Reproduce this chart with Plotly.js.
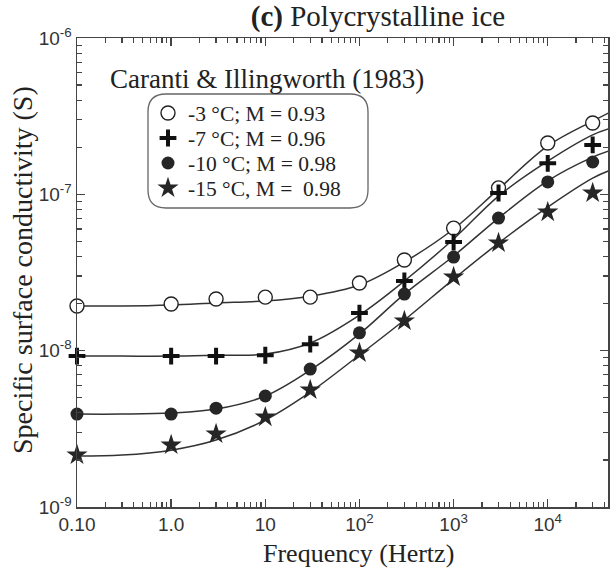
<!DOCTYPE html>
<html>
<head>
<meta charset="utf-8">
<script src="https://cdn.plot.ly/plotly-3.0.1.min.js"></script>
<style>html,body{margin:0;padding:0;background:#fff;}#chart{width:610px;height:572px;}</style>
</head>
<body>
<div id="chart"></div>
<script>
// ---- measured data (Hz, S) ----
var freq = [0.1, 1, 3, 10, 30, 100, 300, 1000, 3000, 10000, 30000];
var sM3  = [1.93e-8, 1.99e-8, 2.14e-8, 2.20e-8, 2.20e-8, 2.71e-8, 3.80e-8, 6.08e-8, 1.10e-7, 2.13e-7, 2.86e-7];
var sM7  = [9.23e-9, 9.23e-9, 9.23e-9, 9.35e-9, 1.10e-8, 1.74e-8, 2.79e-8, 4.95e-8, 1.02e-7, 1.58e-7, 2.07e-7];
var sM10 = [3.93e-9, 3.93e-9, 4.29e-9, 5.13e-9, 7.62e-9, 1.30e-8, 2.30e-8, 3.97e-8, 7.05e-8, 1.20e-7, 1.61e-7];
var sM15 = [2.15e-9, 2.49e-9, 2.93e-9, 3.76e-9, 5.60e-9, 9.66e-9, 1.55e-8, 2.96e-8, 4.88e-8, 7.70e-8, 1.02e-7];

// ---- fitted curves ----
var fitFreq = [0.1, 0.3, 1, 3, 10, 30, 100, 300, 1000, 3000, 10000, 30000, 44000];
var fitM3  = [1.93e-8, 1.93e-8, 1.96e-8, 2.02e-8, 2.08e-8, 2.23e-8, 2.63e-8, 3.69e-8, 6.0e-8, 1.08e-7, 2.04e-7, 2.94e-7, 3.31e-7];
var fitM7  = [9.23e-9, 9.23e-9, 9.23e-9, 9.35e-9, 9.51e-9, 1.12e-8, 1.69e-8, 2.79e-8, 5.18e-8, 9.75e-8, 1.63e-7, 2.40e-7, 2.62e-7];
var fitM10 = [3.93e-9, 3.93e-9, 3.99e-9, 4.23e-9, 5.13e-9, 7.51e-9, 1.28e-8, 2.30e-8, 4.03e-8, 7.05e-8, 1.22e-7, 1.73e-7, 1.89e-7];
var fitM15 = [2.12e-9, 2.15e-9, 2.31e-9, 2.68e-9, 3.60e-9, 5.43e-9, 9.38e-9, 1.57e-8, 2.87e-8, 4.88e-8, 8.29e-8, 1.27e-7, 1.41e-7];

// ---- labels ----
var seriesNames = ['-3 °C; M = 0.93', '-7 °C; M = 0.96', '-10 °C; M = 0.98', '-15 °C, M =\u00a0 0.98'];
var xTickVals = [0.1, 1, 10, 100, 1000, 10000];
var xTickText = ['0.10', '1.0', '10', '10<sup>2</sup>', '10<sup>3</sup>', '10<sup>4</sup>'];
var yTickVals = [1e-9, 1e-8, 1e-7, 1e-6];
var yTickText = ['10<sup>-9</sup>', '10<sup>-8</sup>', '10<sup>-7</sup>', '10<sup>-6</sup>'];
var titleText = '<b>(c)</b> Polycrystalline ice';
var xTitle = 'Frequency (Hertz)';
var yTitle = 'Specific surface conductivity (S)';
var sourceText = 'Caranti &amp; Illingworth (1983)';

function minorTicks(d0, d1) {
  var out = [];
  for (var d = d0; d <= d1; d++) {
    for (var m = 2; m <= 9; m++) out.push(m * Math.pow(10, d));
  }
  return out;
}

var SERIF = 'Liberation Serif, Times New Roman, serif';
var SANS = 'Liberation Sans, Arial, sans-serif';
var INK = '#222';
var LINEC = '#333';

var fits = [fitM3, fitM7, fitM10, fitM15];
var traces = [];
fits.forEach(function (f) {
  traces.push({x: fitFreq, y: f, mode: 'lines', type: 'scatter', line: {color: LINEC, width: 1.5, shape: 'spline', smoothing: 1}, showlegend: false, hoverinfo: 'skip'});
});

var markerStyles = [
  {symbol: 'circle', size: 14, color: '#fff', line: {color: '#222', width: 1.4}},
  {symbol: 'cross-thin', size: 12, color: '#111', line: {color: '#111', width: 4}},
  {symbol: 'circle', size: 13, color: '#262626', line: {color: '#262626', width: 0}},
  {symbol: 'star', size: 16, color: '#262626', line: {color: '#262626', width: 0}}
];
var seriesData = [sM3, sM7, sM10, sM15];
var legendIds = ['legend', 'legend2', 'legend3', 'legend4'];
seriesData.forEach(function (s, i) {
  traces.push({x: freq, y: s, mode: 'markers', type: 'scatter', name: seriesNames[i], marker: markerStyles[i], cliponaxis: false, legend: legendIds[i]});
});

// layout geometry (pixels -> paper)
var L = 77, R = 2, T = 38, B = 65, W = 610, H = 572;
var pw = W - L - R, ph = H - T - B;
function px(x) { return (x - L) / pw; }
function py(y) { return (H - B - y) / ph; }

var legendRows = [113, 138, 163, 188];
var legendFont = {family: SERIF, size: 21.5, color: INK};
var layout = {
  width: W, height: H,
  margin: {l: L, r: R, t: T, b: B},
  paper_bgcolor: '#fff', plot_bgcolor: '#fff',
  title: {text: titleText, font: {family: SERIF, size: 29, color: INK}, xref: 'container', yref: 'container', x: 378 / W, xanchor: 'center', y: 1 - 16 / H, yanchor: 'middle'},
  xaxis: {
    type: 'log', range: [-1, 4.64], tickmode: 'array', tickvals: xTickVals, ticktext: xTickText,
    ticks: 'inside', ticklen: 8, tickwidth: 1.5, tickcolor: '#444',
    showline: true, linecolor: '#444', linewidth: 1.5, mirror: 'allticks',
    showgrid: false, zeroline: false,
    tickfont: {family: SANS, size: 19, color: '#333'},
    minor: {tickmode: 'array', tickvals: minorTicks(-1, 4), ticks: 'inside', ticklen: 5, tickwidth: 1.2, tickcolor: '#444', showgrid: false}
  },
  yaxis: {
    type: 'log', range: [-9, -6], tickmode: 'array', tickvals: yTickVals, ticktext: yTickText,
    ticks: 'inside', ticklen: 8, tickwidth: 1.5, tickcolor: '#444',
    showline: true, linecolor: '#444', linewidth: 1.5, mirror: 'allticks',
    showgrid: false, zeroline: false,
    tickfont: {family: SANS, size: 19, color: '#333'},
    minor: {tickmode: 'array', tickvals: minorTicks(-9, -7), ticks: 'inside', ticklen: 5, tickwidth: 1.2, tickcolor: '#444', showgrid: false}
  },
  annotations: [
    {text: xTitle, xref: 'paper', yref: 'paper', x: px(358), y: py(553), xanchor: 'center', yanchor: 'middle', showarrow: false, font: {family: SERIF, size: 26, color: INK}},
    {text: yTitle, xref: 'paper', yref: 'paper', x: px(22), y: py(270), xanchor: 'center', yanchor: 'middle', textangle: -90, showarrow: false, font: {family: SERIF, size: 28, color: INK}},
    {text: sourceText, xref: 'paper', yref: 'paper', x: px(108), y: py(79), xanchor: 'left', yanchor: 'middle', showarrow: false, font: {family: SERIF, size: 27, color: INK}}
  ],
  shapes: []
};

legendIds.forEach(function (id, i) {
  layout[id] = {x: px(148), y: py(legendRows[i]), xanchor: 'left', yanchor: 'middle', bgcolor: 'rgba(0,0,0,0)', borderwidth: 0, font: legendFont, itemclick: false};
});

// rounded legend frame
var bx0 = px(148), bx1 = px(368), byT = py(94), byB = py(208);
var rx = 18 / pw, ry = 18 / ph;
var p = 'M ' + (bx0 + rx) + ',' + byT + ' L ' + (bx1 - rx) + ',' + byT +
  ' Q ' + bx1 + ',' + byT + ' ' + bx1 + ',' + (byT - ry) +
  ' L ' + bx1 + ',' + (byB + ry) +
  ' Q ' + bx1 + ',' + byB + ' ' + (bx1 - rx) + ',' + byB +
  ' L ' + (bx0 + rx) + ',' + byB +
  ' Q ' + bx0 + ',' + byB + ' ' + bx0 + ',' + (byB + ry) +
  ' L ' + bx0 + ',' + (byT - ry) +
  ' Q ' + bx0 + ',' + byT + ' ' + (bx0 + rx) + ',' + byT + ' Z';
layout.shapes.push({type: 'path', xref: 'paper', yref: 'paper', path: p, line: {color: '#666', width: 1.3}, fillcolor: '#fff', layer: 'below'});

Plotly.newPlot('chart', traces, layout, {displayModeBar: false, staticPlot: true});
</script>
</body>
</html>
